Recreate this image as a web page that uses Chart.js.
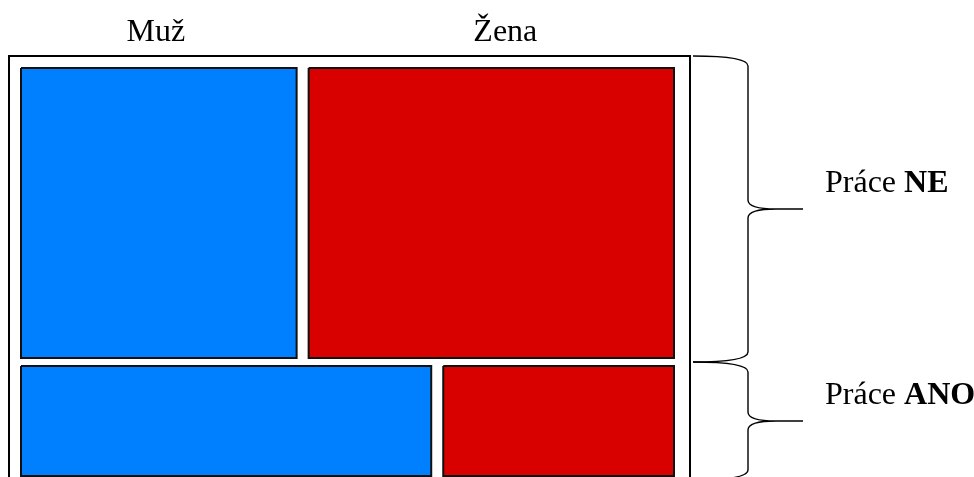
<!DOCTYPE html>
<html>
<head>
<meta charset="utf-8">
<script src="https://cdn.jsdelivr.net/npm/chart.js@4/dist/chart.umd.min.js"></script>
<style>
  body { margin: 0; background: #fff; }
  #wrap { width: 974px; height: 477px; position: relative; }
</style>
</head>
<body>
<div id="wrap"><canvas id="mosaic"></canvas></div>
<script>
// rows = work yes/no, columns = gender
const rowLabels = ["NE", "ANO"];
const colLabels = ["Muž", "Žena"];
const rowShare = [0.725, 0.275];          // share of people in each row
const muzShare = [0.43, 0.64];            // share of men within each row
const zenaShare = [0.57, 0.36];           // share of women within each row
const colColors = ["#0080ff", "#d90000"];

const GAP_X = 0.0184;
const GAP_Y = 0.0196;

// build rectangle bounds in scale units
const rects = [];
let yStart = 0;
rowShare.forEach((rs, r) => {
  const y0 = yStart;
  const y1 = yStart + rs * (1 - GAP_Y);
  const shares = [muzShare[r], zenaShare[r]];
  let xStart = 0;
  shares.forEach((s, c) => {
    const x0 = xStart;
    const x1 = xStart + s * (1 - GAP_X);
    rects.push({ r, c, x0, x1, y0, y1 });
    xStart = x1 + GAP_X;
  });
  yStart = y1 + GAP_Y;
});

const datasets = [];
rects.forEach((b) => {
  // fill: top edge filled down to bottom value
  datasets.push({
    data: [{ x: b.x0, y: b.y0 }, { x: b.x1, y: b.y0 }],
    showLine: true,
    borderWidth: 0,
    pointRadius: 0,
    backgroundColor: colColors[b.c],
    fill: { value: b.y1 },
    clip: false,
    order: 2
  });
  // outline, drawn on top of the fill
  datasets.push({
    data: [
      { x: b.x0, y: b.y0 }, { x: b.x1, y: b.y0 },
      { x: b.x1, y: b.y1 }, { x: b.x0, y: b.y1 }, { x: b.x0, y: b.y0 }
    ],
    showLine: true,
    borderColor: "#101010",
    borderWidth: 2,
    borderJoinStyle: "miter",
    pointRadius: 0,
    fill: false,
    clip: false,
    order: 1
  });
});

const drawBrace = (ctx, x0, yT, yB) => {
  const xm = x0 + 55;
  const xt = x0 + 110;
  const ym = (yT + yB) / 2;
  ctx.beginPath();
  ctx.moveTo(x0, yT);
  ctx.quadraticCurveTo(xm, yT, xm, yT + 10);
  ctx.lineTo(xm, ym - 9);
  ctx.quadraticCurveTo(xm, ym, xm + 28, ym);
  ctx.lineTo(xt, ym);
  ctx.moveTo(xm + 28, ym);
  ctx.quadraticCurveTo(xm, ym, xm, ym + 9);
  ctx.lineTo(xm, yB - 10);
  ctx.quadraticCurveTo(xm, yB, x0, yB);
  ctx.stroke();
  return ym;
};

const decorations = {
  id: "decorations",
  afterDraw(chart) {
    const { ctx, chartArea, scales } = chart;
    const xs = scales.x, ys = scales.y;
    ctx.save();

    // outer frame
    ctx.strokeStyle = "#000";
    ctx.lineWidth = 2;
    ctx.strokeRect(chartArea.left - 12, chartArea.top - 12,
      chartArea.right - chartArea.left + 28, chartArea.bottom - chartArea.top + 40);

    // column labels over the top row
    ctx.fillStyle = "#000";
    ctx.font = "32px 'Liberation Serif', 'Times New Roman', serif";
    ctx.textAlign = "center";
    ctx.textBaseline = "alphabetic";
    const offs = [-3, 14];
    rects.filter((b) => b.r === 0).forEach((b) => {
      const cx = (xs.getPixelForValue(b.x0) + xs.getPixelForValue(b.x1)) / 2 + offs[b.c];
      ctx.fillText(colLabels[b.c], cx, 41);
    });

    // braces + row labels
    ctx.lineWidth = 1.4;
    const braceX = chartArea.right + 19;
    rowLabels.forEach((lab, r) => {
      const b = rects.find((q) => q.r === r && q.c === 0);
      const yT = r === 0 ? chartArea.top - 12 : ys.getPixelForValue(b.y0) - 4;
      const yB = ys.getPixelForValue(b.y1) + 4;
      const ym = drawBrace(ctx, braceX, yT, yB);
      ctx.textAlign = "left";
      ctx.font = "32px 'Liberation Serif', 'Times New Roman', serif";
      const tx = braceX + 132;
      const base = ym - 17;
      ctx.fillText("Práce ", tx, base);
      const w = ctx.measureText("Práce ").width;
      ctx.font = "bold 32px 'Liberation Serif', 'Times New Roman', serif";
      ctx.fillText(lab, tx + w, base);
    });

    ctx.restore();
  }
};

new Chart(document.getElementById("mosaic"), {
  type: "scatter",
  data: { datasets },
  options: {
    responsive: true,
    maintainAspectRatio: false,
    animation: false,
    layout: { padding: { left: 21, right: 300, top: 68, bottom: 1 } },
    scales: {
      x: { type: "linear", min: 0, max: 1, display: false },
      y: { type: "linear", min: 0, max: 1, reverse: true, display: false }
    },
    plugins: {
      legend: { display: false },
      tooltip: { enabled: false }
    }
  },
  plugins: [decorations]
});
</script>
</body>
</html>
